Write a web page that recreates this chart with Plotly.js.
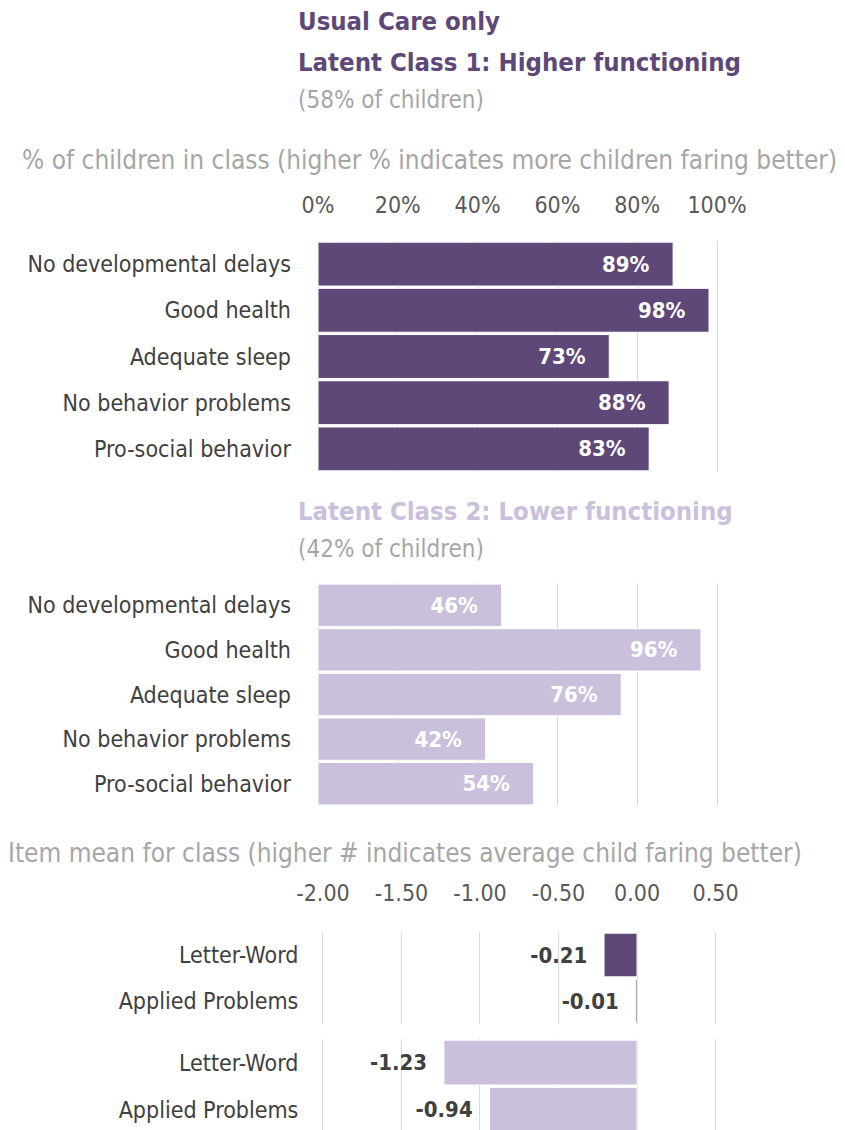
<!DOCTYPE html>
<html>
<head>
<meta charset="utf-8">
<script src="https://cdn.plot.ly/plotly-3.0.1.min.js"></script>
<style>html,body{margin:0;padding:0;background:#fff;}#chart{width:845px;height:1130px;}</style>
</head>
<body>
<div id="chart"></div>
<script>
// ---- data ----
const categories = ["No developmental delays", "Good health", "Adequate sleep", "No behavior problems", "Pro-social behavior"];
const class1Pct = [89, 98, 73, 88, 83];
const class2Pct = [46, 96, 76, 42, 54];
const pctTickVals = [0, 20, 40, 60, 80, 100];
const pctTickText = ["0%", "20%", "40%", "60%", "80%", "100%"];

const itemCategories = ["Letter-Word", "Applied Problems"];
const class1Mean = [-0.21, -0.01];
const class2Mean = [-1.23, -0.94];
const meanTickVals = [-2, -1.5, -1, -0.5, 0, 0.5];
const meanTickText = ["-2.00", "-1.50", "-1.00", "-0.50", "0.00", "0.50"];

// ---- style ----
const FONT = "'Liberation Sans Narrow', 'Arial Narrow', 'DejaVu Sans Condensed', sans-serif";
const DARK = "#5E4878";
const LIGHT = "#CBC0DC";
const GRAY = "#A6A6A6";
const TXT = "#404040";
const GRID = "#D9D9D9";
const H = 1130, W = 845;
const py = p => 1 - p / H;
const px = p => p / W;
const NB = "\u00a0";

const traces = [
  {type: "bar", orientation: "h", x: class1Pct, y: categories, xaxis: "x", yaxis: "y",
   marker: {color: DARK, line: {color: "#FFFFFF", width: 1}},
   texttemplate: "%{x}%" + NB + NB + NB, textposition: "inside", insidetextanchor: "end",
   textfont: {family: FONT, size: 22, color: "#FFFFFF", weight: "bold"}, hoverinfo: "skip", cliponaxis: false},
  {type: "bar", orientation: "h", x: class2Pct, y: categories, xaxis: "x2", yaxis: "y2",
   marker: {color: LIGHT, line: {color: "#FFFFFF", width: 1}},
   texttemplate: "%{x}%" + NB + NB + NB, textposition: "inside", insidetextanchor: "end",
   textfont: {family: FONT, size: 22, color: "#FFFFFF", weight: "bold"}, hoverinfo: "skip", cliponaxis: false},
  {type: "bar", orientation: "h", x: class1Mean, y: itemCategories, xaxis: "x3", yaxis: "y3",
   marker: {color: DARK, line: {color: "#FFFFFF", width: 1}},
   texttemplate: "%{x:.2f}" + NB + NB, textposition: "outside",
   textfont: {family: FONT, size: 22, color: TXT, weight: "bold"}, hoverinfo: "skip", cliponaxis: false},
  {type: "bar", orientation: "h", x: class2Mean, y: itemCategories, xaxis: "x4", yaxis: "y4",
   marker: {color: LIGHT, line: {color: "#FFFFFF", width: 1}},
   texttemplate: "%{x:.2f}" + NB + NB, textposition: "outside",
   textfont: {family: FONT, size: 22, color: TXT, weight: "bold"}, hoverinfo: "skip", cliponaxis: false}
];

const xPct = (dom, yAnchor, showLabels) => ({
  domain: dom, anchor: yAnchor, range: [-0.5, 100.5], tickvals: pctTickVals, ticktext: pctTickText,
  side: "top", showticklabels: showLabels, showgrid: true, gridcolor: GRID, gridwidth: 1,
  zeroline: false, showline: false, ticks: "", ticklabelstandoff: 22,
  tickfont: {family: FONT, size: 23, color: "#595959"}, fixedrange: true
});
const xMean = (dom, yAnchor, showLabels) => ({
  domain: dom, anchor: yAnchor, range: [-2.01, 0.51], tickvals: meanTickVals, ticktext: meanTickText,
  side: "top", showticklabels: showLabels, showgrid: true, gridcolor: GRID, gridwidth: 1,
  zeroline: false, showline: false, ticks: "", ticklabelstandoff: 25,
  tickfont: {family: FONT, size: 23, color: "#595959"}, fixedrange: true
});
const yCat = (dom, xAnchor, range, standoff) => ({
  domain: dom, anchor: xAnchor, type: "category", range: range, autorange: false,
  showgrid: false, zeroline: false, showline: false, ticks: "", ticklabelstandoff: standoff,
  tickfont: {family: FONT, size: 23, color: TXT}, fixedrange: true
});

const xd1 = [px(316), px(719)];
const xd3 = [px(321.4), px(717.1)];

const ann = (text, xPx, yPx, size, color, bold) => ({
  text: bold ? "<b>" + text + "</b>" : text, xref: "paper", yref: "paper",
  x: px(xPx), y: py(yPx), xanchor: "left", yanchor: "middle", showarrow: false,
  font: {family: FONT, size: size, color: color}
});

const layout = {
  width: W, height: H, margin: {l: 0, r: 0, t: 0, b: 0},
  paper_bgcolor: "#FFFFFF", plot_bgcolor: "rgba(0,0,0,0)",
  showlegend: false, bargap: 0.05,
  font: {family: FONT},
  xaxis: xPct(xd1, "y", true),
  yaxis: yCat([py(472), py(241)], "x", [4.5, -0.5], 24),
  xaxis2: xPct(xd1, "y2", false),
  yaxis2: yCat([py(806), py(583)], "x2", [4.5, -0.5], 24),
  xaxis3: xMean(xd3, "y3", true),
  yaxis3: yCat([py(1024), py(932)], "x3", [1.5, -0.5], 22),
  xaxis4: xMean(xd3, "y4", false),
  yaxis4: yCat([py(1130), py(1039)], "x4", [1.43, -0.5], 22),
  annotations: [
    ann("Usual Care only", 296, 21, 25.5, DARK, true),
    ann("Latent Class 1: Higher functioning", 296, 62, 25.5, DARK, true),
    ann("(58% of children)", 296, 100, 24, GRAY, false),
    ann("% of children in class (higher % indicates more children faring better)", 20, 160, 26, GRAY, false),
    ann("Latent Class 2: Lower functioning", 296, 511, 25.5, LIGHT, true),
    ann("(42% of children)", 296, 549, 24, GRAY, false),
    ann("Item mean for class (higher # indicates average child faring better)", 6, 853, 26, GRAY, false)
  ]
};

Plotly.newPlot("chart", traces, layout, {displayModeBar: false, staticPlot: true});
</script>
</body>
</html>
